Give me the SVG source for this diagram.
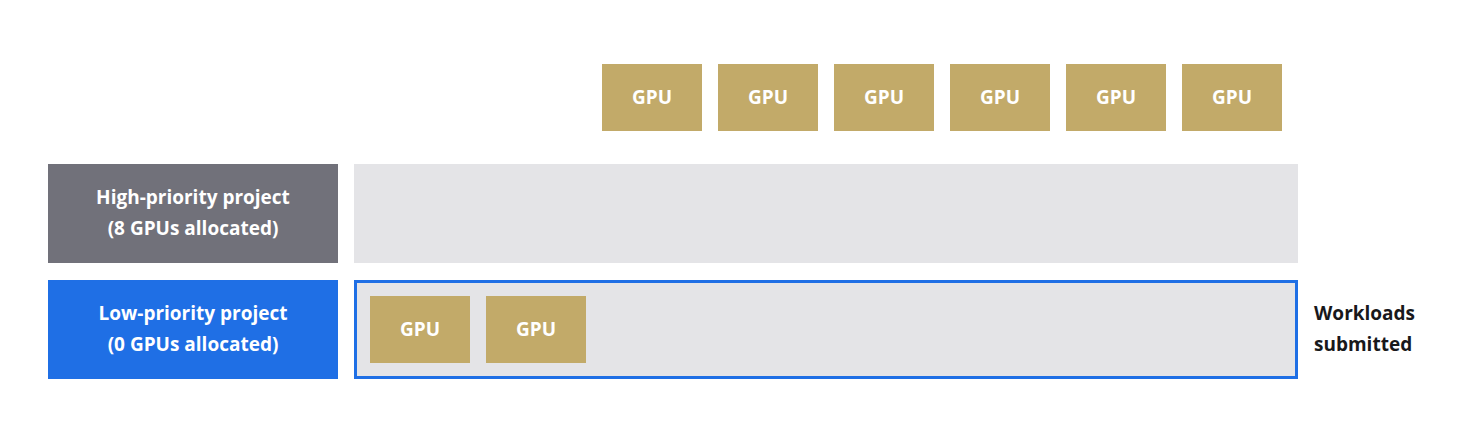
<svg xmlns="http://www.w3.org/2000/svg" width="1472" height="444" viewBox="0 0 1472 444">
<style>
.gpu rect{fill:#c2aa69}
.gpu text,.lbl text{fill:#fff;font-family:"Open Sans",sans-serif;font-weight:bold;font-size:19px;text-anchor:middle}
.dark{fill:#18181b;font-family:"Open Sans",sans-serif;font-weight:bold;font-size:19px}
</style>
<rect width="1472" height="444" fill="#fff"/>
<g id="gpu-top-1" class="gpu"><rect x="602" y="64" width="100" height="67"/><text x="652" y="104">GPU</text></g>
<g id="gpu-top-2" class="gpu"><rect x="718" y="64" width="100" height="67"/><text x="768" y="104">GPU</text></g>
<g id="gpu-top-3" class="gpu"><rect x="834" y="64" width="100" height="67"/><text x="884" y="104">GPU</text></g>
<g id="gpu-top-4" class="gpu"><rect x="950" y="64" width="100" height="67"/><text x="1000" y="104">GPU</text></g>
<g id="gpu-top-5" class="gpu"><rect x="1066" y="64" width="100" height="67"/><text x="1116" y="104">GPU</text></g>
<g id="gpu-top-6" class="gpu"><rect x="1182" y="64" width="100" height="67"/><text x="1232" y="104">GPU</text></g>
<g id="high-label" class="lbl"><rect x="48" y="164" width="290" height="99" fill="#71717a"/><text x="193" y="204">High-priority project</text><text x="193" y="235">(8 GPUs allocated)</text></g>
<g id="high-lane"><rect x="354" y="164" width="944" height="99" fill="#e4e4e7"/></g>
<g id="low-label" class="lbl"><rect x="48" y="280" width="290" height="99" fill="#1f6fe5"/><text x="193" y="320">Low-priority project</text><text x="193" y="351">(0 GPUs allocated)</text></g>
<g id="low-lane"><rect x="355.5" y="281.5" width="941" height="96" fill="#e4e4e7" stroke="#1f6fe5" stroke-width="3"/></g>
<g id="gpu-low-1" class="gpu"><rect x="370" y="296" width="100" height="67"/><text x="420" y="336">GPU</text></g>
<g id="gpu-low-2" class="gpu"><rect x="486" y="296" width="100" height="67"/><text x="536" y="336">GPU</text></g>
<g id="workloads"><text class="dark" x="1314" y="320">Workloads</text><text class="dark" x="1314" y="351">submitted</text></g>
<g id="connectors"/>
</svg>
